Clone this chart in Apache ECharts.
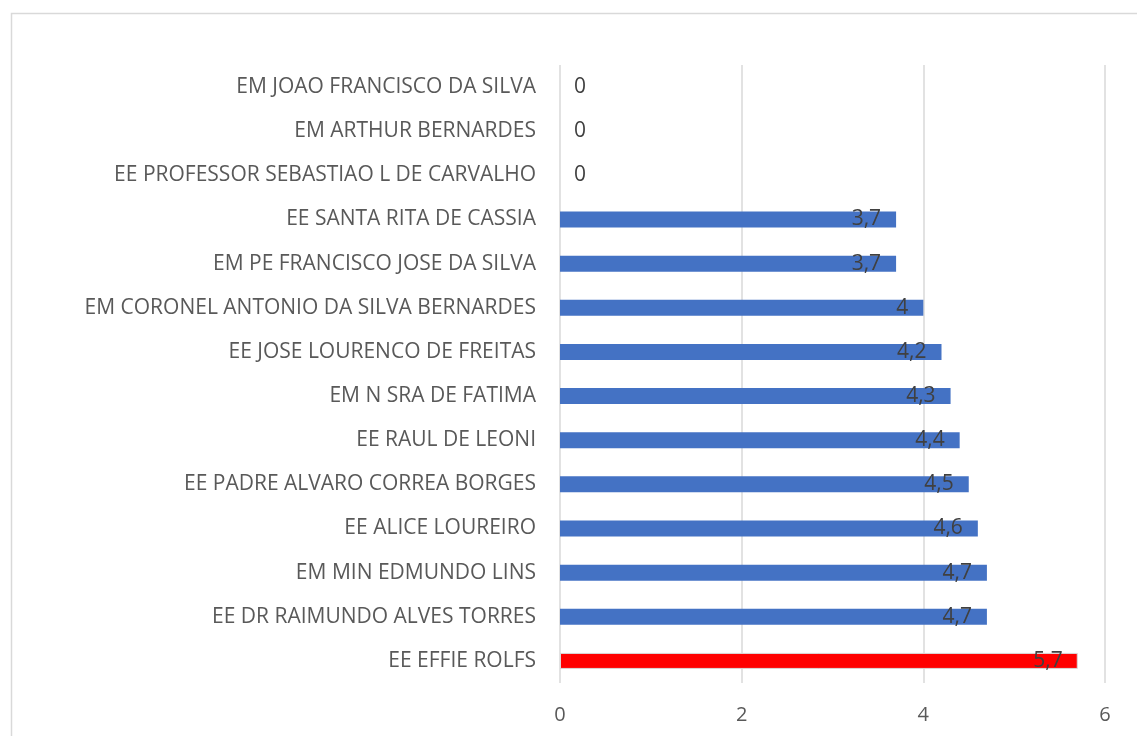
<!DOCTYPE html>
<html>
<head>
<meta charset="utf-8">
<script src="https://cdn.jsdelivr.net/npm/echarts@6/dist/echarts.min.js"></script>
<style>
html, body { margin: 0; padding: 0; background: #fff; }
#main { width: 1137px; height: 736px; }
</style>
</head>
<body>
<div id="main"></div>
<script>
var myChart = echarts.init(document.getElementById('main'));

// bottom to top, as the category axis lists them
var escolas = [
    'EE EFFIE ROLFS',
    'EE DR RAIMUNDO ALVES TORRES',
    'EM MIN EDMUNDO LINS',
    'EE ALICE LOUREIRO',
    'EE PADRE ALVARO CORREA BORGES',
    'EE RAUL DE LEONI',
    'EM N SRA DE FATIMA',
    'EE JOSE LOURENCO DE FREITAS',
    'EM CORONEL ANTONIO DA SILVA BERNARDES',
    'EM PE FRANCISCO JOSE DA SILVA',
    'EE SANTA RITA DE CASSIA',
    'EE PROFESSOR SEBASTIAO L DE CARVALHO',
    'EM ARTHUR BERNARDES',
    'EM JOAO FRANCISCO DA SILVA'
];
var notas = [5.7, 4.7, 4.7, 4.6, 4.5, 4.4, 4.3, 4.2, 4.0, 3.7, 3.7, 0, 0, 0];
var destaque = 'EE EFFIE ROLFS';

var fonte = '"Open Sans", sans-serif';

var dados = [];
for (var i = 0; i < notas.length; i++) {
    var item = { value: notas[i] };
    if (escolas[i] === destaque) {
        item.itemStyle = { color: '#ff0000', borderColor: '#d9d9d9', borderWidth: 1 };
    }
    if (notas[i] === 0) {
        item.label = { position: 'right', distance: 14 };
    }
    dados.push(item);
}

option = {
    backgroundColor: '#ffffff',
    animation: false,
    graphic: [{
        type: 'rect',
        left: 9,
        top: 11,
        shape: { width: 1200, height: 800 },
        style: { fill: 'none', stroke: '#d9d9d9', lineWidth: 1.5 },
        silent: true
    }],
    grid: {
        left: 560,
        right: 32,
        top: 65,
        bottom: 53
    },
    xAxis: {
        type: 'value',
        min: 0,
        max: 6,
        interval: 2,
        axisLine: { show: false },
        axisTick: { show: false },
        axisLabel: {
            margin: 22,
            color: '#595959',
            fontSize: 20,
            fontFamily: fonte
        },
        splitLine: { lineStyle: { color: '#d9d9d9', width: 1.5 } }
    },
    yAxis: {
        type: 'category',
        data: escolas,
        axisLine: { show: false },
        axisTick: { show: false },
        axisLabel: {
            margin: 24,
            color: '#595959',
            fontSize: 21,
            fontFamily: fonte,
            padding: [3, 0, 0, 0]
        }
    },
    series: [{
        type: 'bar',
        data: dados,
        barWidth: 16,
        itemStyle: { color: '#4472c4' },
        label: {
            show: true,
            position: 'insideRight',
            distance: 15,
            color: '#404040',
            fontSize: 21,
            fontFamily: fonte,
            padding: [3, 0, 0, 0],
            formatter: function (p) {
                return String(p.value).replace('.', ',');
            }
        }
    }]
};

myChart.setOption(option);
</script>
</body>
</html>
